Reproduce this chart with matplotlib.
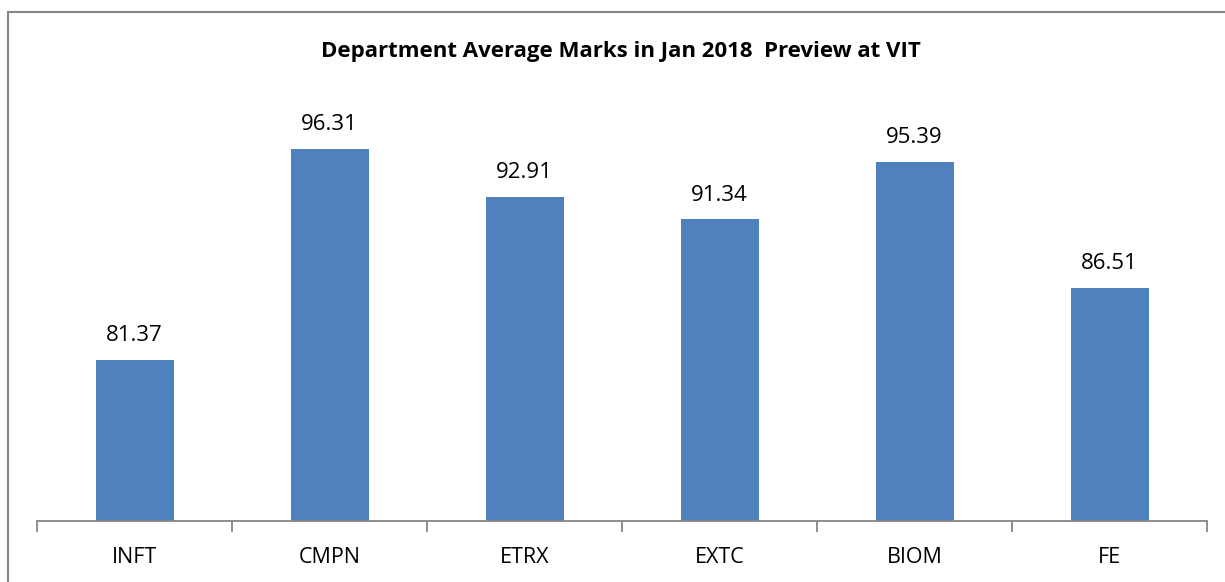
import matplotlib.pyplot as plt
from matplotlib.patches import Rectangle

departments = ['INFT', 'CMPN', 'ETRX', 'EXTC', 'BIOM', 'FE']
avg_marks = [81.37, 96.31, 92.91, 91.34, 95.39, 86.51]

plt.rcParams['font.family'] = ['Open Sans', 'DejaVu Sans']

fig = plt.figure(figsize=(12.25, 5.82), dpi=100)
ax = fig.add_axes([37 / 1225, 61 / 582, 1170 / 1225, 424 / 582])

x = range(len(departments))
bars = ax.bar(x, avg_marks, width=0.4, color='#4f81bd', zorder=2)
for xi, v in zip(x, avg_marks):
    ax.annotate('{:.2f}'.format(v), (xi, v), xytext=(0, 10), textcoords='offset points',
                ha='center', va='bottom', fontsize=16, color='black')

ax.set_xlim(-0.5, len(departments) - 0.5)
ax.set_ylim(70, 100)
ax.set_yticks([])
ax.set_xticks([i - 0.5 for i in range(len(departments) + 1)], minor=False)
ax.set_xticklabels([])
ax.set_xticks(list(x), minor=True)
ax.set_xticklabels(departments, minor=True, fontsize=15.5)
ax.tick_params(axis='x', which='major', length=8, width=1.3, color='#868686', direction='out')
ax.tick_params(axis='x', which='minor', length=0, pad=19)
for side in ['left', 'right', 'top']:
    ax.spines[side].set_visible(False)
ax.spines['bottom'].set_color('#868686')
ax.spines['bottom'].set_linewidth(1.3)

fig.text(0.507, 1 - 52 / 582, 'Department Average Marks in Jan 2018  Preview at VIT',
         ha='center', va='center', fontsize=16, fontweight='bold')

fig.patches.append(Rectangle((8 / 1225, -0.1), 1.2, (582 - 12) / 582 + 0.1,
                             transform=fig.transFigure, fill=False,
                             edgecolor='#868686', linewidth=1.5))

fig.savefig('out.png', dpi=100)
